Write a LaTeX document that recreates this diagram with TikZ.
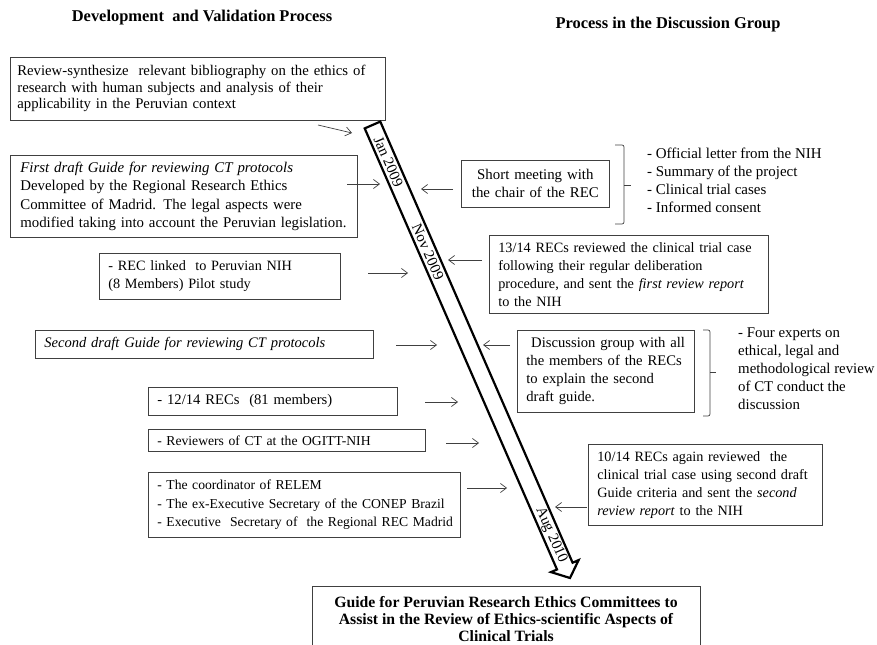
\documentclass[tikz,border=0pt]{standalone}
\usepackage{fontspec}
\setmainfont{Liberation Serif}
\usetikzlibrary{arrows.meta}
\newcommand{\fs}[2]{\fontsize{#1}{#2}\selectfont}
\begin{document}
\begin{tikzpicture}[x=1bp,y=-1bp,
  txt/.style={font=\fs{14.5}{18}},
  box/.style={txt, draw=black!75, line width=0.7bp, inner xsep=9bp, inner ysep=0pt,
              anchor=north west, align=left},
  cbox/.style={box, align=center},
  conn/.style={draw=black!75, line width=0.7bp, -{Straight Barb[length=6bp,width=9bp]}},
  bigarrow/.style={draw=black, line width=2.2bp, line join=miter},
  brace/.style={draw=black!75, line width=0.7bp, rounded corners=2bp},
  datelbl/.style={font=\fs{15}{16}, rotate=-66.44, inner sep=0pt},
  title/.style={font=\fs{16.5}{18}\bfseries}]
\useasboundingbox (0,0) rectangle (877,645);
\clip (0,0) rectangle (877,645);

% titles
\node[title] (t1) at (202,18) {Development\ \ and Validation Process};
\node[title] (t2) at (668,25) {Process in the Discussion Group};

% left boxes
\node[box, inner xsep=7bp, font=\fs{14.8}{16.6}, minimum width=375bp, minimum height=63bp, text width=361bp] (b1) at (10,57)
 {\mbox{Review-synthesize\ \ relevant bibliography on the ethics of}\\ research with human subjects and analysis of their\\ applicability in the Peruvian context};
\node[box, inner xsep=10bp, font=\fs{14.9}{18.3}, minimum width=347bp, minimum height=82bp, text width=327bp] (b2) at (10,155)
 {\textit{First draft Guide for reviewing CT protocols}\\ Developed by the Regional Research Ethics\\ Committee of Madrid. The legal aspects were\\ \mbox{modified taking into account the Peruvian legislation.}};
\node[box, font=\fs{14.3}{18}, minimum width=241bp, minimum height=46bp, text width=223bp] (b3) at (99,253)
 {- REC linked\ \ to Peruvian NIH\\ (8 Members) Pilot study};
\node[box, font=\fs{14.6}{18}, minimum width=338bp, minimum height=28bp, text width=320bp] (b4) at (35,330)
 {\textit{Second draft Guide for reviewing CT protocols}};
\node[box, font=\fs{14.7}{18}, minimum width=249bp, minimum height=28bp, text width=231bp] (b5) at (148,387)
 {- 12/14 RECs\ \ (81 members)};
\node[box, font=\fs{13.7}{18}, minimum width=277bp, minimum height=22bp, text width=259bp] (b6) at (148,429)
 {- Reviewers of CT at the OGITT-NIH};
\node[box, font=\fs{13.7}{18.5}, minimum width=312bp, minimum height=65bp, text width=294bp] (b7) at (148,472)
 {- The coordinator of RELEM\\ \mbox{- The ex-Executive Secretary of the CONEP Brazil}\\ \mbox{- Executive\ \ Secretary of\ \ the Regional REC Madrid}};

% right boxes
\node[cbox, font=\fs{14.9}{18}, minimum width=148bp, minimum height=47bp, text width=130bp] (r1) at (461,160)
 {Short meeting with\\ the chair of the REC};
\node[box, font=\fs{14.3}{18}, minimum width=279bp, minimum height=78bp, text width=261bp] (r2) at (489,235)
 {\mbox{13/14 RECs reviewed the clinical trial case}\\ following their regular deliberation\\ \mbox{procedure, and sent the \textit{first review report}}\\ to the NIH};
\node[box, font=\fs{14.7}{18}, minimum width=177bp, minimum height=82bp, text width=159bp] (r3) at (517,330)
 {\ Discussion group with all\\ the members of the RECs\\ to explain the second\\ draft guide.};
\node[box, font=\fs{14.3}{18}, minimum width=234bp, minimum height=81bp, text width=216bp] (r4) at (588,444)
 {10/14 RECs again reviewed\ \ the\\ \mbox{clinical trial case using second draft}\\ \mbox{Guide criteria and sent the \textit{second}}\\ \textit{review report} to the NIH};

% lists beside braces
\node[font=\fs{15}{18}, anchor=west, align=left, inner sep=0pt] (l1) at (647,180)
 {- Official letter from the NIH\\ - Summary of the project\\ - Clinical trial cases\\ - Informed consent};
\node[font=\fs{14.9}{18}, anchor=west, align=left, inner sep=0pt] (l2) at (738,369)
 {- Four experts on\\ ethical, legal and\\ methodological review\\ of CT conduct the\\ discussion};

% braces
\draw[brace] (615,145) -- (624,145) -- (624,224) -- (615,224);
\draw[draw=black!75, line width=0.7bp] (624,185) -- (631,185);
\draw[brace] (703,330) -- (710,330) -- (710,416) -- (703,416);
\draw[draw=black!75, line width=0.7bp] (710,372) -- (716,372);

% big time arrow
\draw[bigarrow] (364.7,128.4) -- (380.3,121.6) -- (572.6,562.7) -- (578.6,560.1)
  -- (570,578) -- (551.0,572.1) -- (557.0,569.5) -- cycle;
\node[datelbl] (jan) at (388.5,161.7) {Jan 2009};
\node[datelbl] (nov) at (428,252) {Nov 2009};
\node[datelbl] (aug) at (551,535) {Aug 2010};

% final box
\node[draw=black!75, line width=0.7bp, minimum width=388bp, minimum height=66bp,
      font=\fs{15.8}{17}\bfseries, align=center, inner sep=0pt] (guide) at (506,619)
 {Guide for Peruvian Research Ethics Committees to\\ Assist in the Review of Ethics-scientific Aspects of\\ Clinical Trials};

% connector end points
\coordinate (a1s) at (318,125); \coordinate (a1e) at (352,133);
\coordinate (a2s) at (347,184); \coordinate (a2e) at (380,184);
\coordinate (a3s) at (368,273); \coordinate (a3e) at (408,273);
\coordinate (a4s) at (396,345); \coordinate (a4e) at (437,345);
\coordinate (a5s) at (425,402); \coordinate (a5e) at (458,402);
\coordinate (a6s) at (446,443); \coordinate (a6e) at (479,443);
\coordinate (a7s) at (467,488); \coordinate (a7e) at (507,488);
\coordinate (c1s) at (453,189); \coordinate (c1e) at (421,189);
\coordinate (c2s) at (482,260); \coordinate (c2e) at (448,260);
\coordinate (c3s) at (510,345); \coordinate (c3e) at (483,345);
\coordinate (c4s) at (587,507); \coordinate (c4e) at (555,507);

\foreach \p in {a1,a2,a3,a4,a5,a6,a7,c1,c2,c3,c4}
  \draw[conn] (\p s) -- (\p e);
\end{tikzpicture}
\end{document}
